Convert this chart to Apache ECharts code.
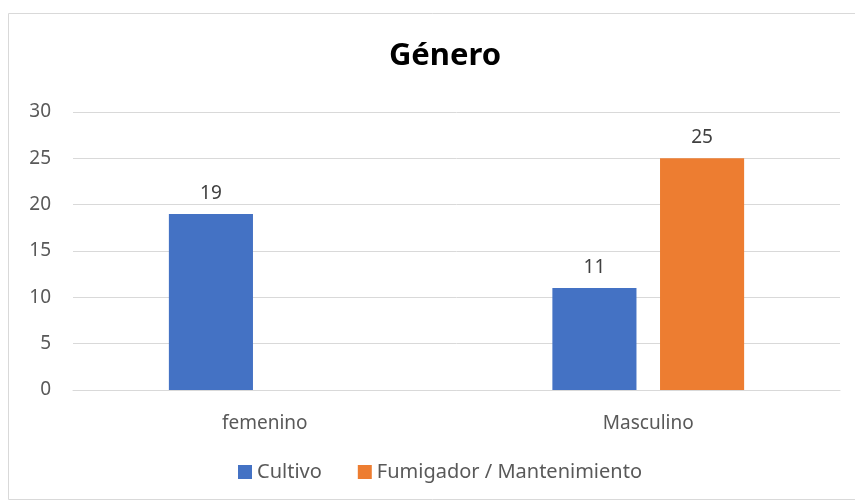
<!DOCTYPE html>
<html>
<head>
<meta charset="utf-8">
<script src="https://cdn.jsdelivr.net/npm/echarts@6/dist/echarts.min.js"></script>
<style>
html, body { margin: 0; padding: 0; background: #fff; }
#chart { width: 855px; height: 504px; }
</style>
</head>
<body>
<div id="chart"></div>
<script>
var categories = ['femenino', 'Masculino'];
var cultivo = [19, 11];
var fumigador = [null, 25];
var seriesNames = ['Cultivo', 'Fumigador / Mantenimiento'];

var chart = echarts.init(document.getElementById('chart'));
var font = 'Noto Sans';

var option = {
    animation: false,
    textStyle: { fontFamily: font },
    graphic: [{
        type: 'rect',
        shape: { x: 8.5, y: 13.5, width: 860, height: 486 },
        style: { fill: 'none', stroke: '#d9d9d9', lineWidth: 1 },
        silent: true
    }],
    title: {
        text: 'Género',
        left: 440,
        textAlign: 'center',
        top: 36,
        textStyle: { fontSize: 31, fontWeight: 'bold', color: '#000', fontFamily: font }
    },
    legend: {
        data: seriesNames,
        bottom: 17,
        left: 233,
        itemWidth: 14,
        itemHeight: 14,
        itemGap: 36,
        icon: 'rect',
        textStyle: { fontSize: 20, color: '#595959', fontFamily: font }
    },
    grid: { left: 73, right: 15, top: 112, bottom: 114 },
    xAxis: {
        type: 'category',
        data: categories,
        axisLine: { lineStyle: { color: '#d9d9d9' } },
        axisTick: { show: false },
        axisLabel: { fontSize: 19, color: '#595959', margin: 24, fontFamily: font }
    },
    yAxis: {
        type: 'value',
        min: 0,
        max: 30,
        interval: 5,
        axisLine: { show: false },
        axisTick: { show: false },
        axisLabel: { fontSize: 19, color: '#595959', margin: 22, fontFamily: font },
        splitLine: { lineStyle: { color: '#d9d9d9' } }
    },
    series: [
        {
            name: seriesNames[0],
            type: 'bar',
            data: cultivo,
            itemStyle: { color: '#4472c4' },
            barGap: '28%',
            barCategoryGap: '50%',
            label: { show: true, position: 'top', distance: 11, fontSize: 19, color: '#404040', fontFamily: font }
        },
        {
            name: seriesNames[1],
            type: 'bar',
            data: fumigador,
            itemStyle: { color: '#ed7d31' },
            label: { show: true, position: 'top', distance: 11, fontSize: 19, color: '#404040', fontFamily: font }
        }
    ]
};

chart.setOption(option);
</script>
</body>
</html>
